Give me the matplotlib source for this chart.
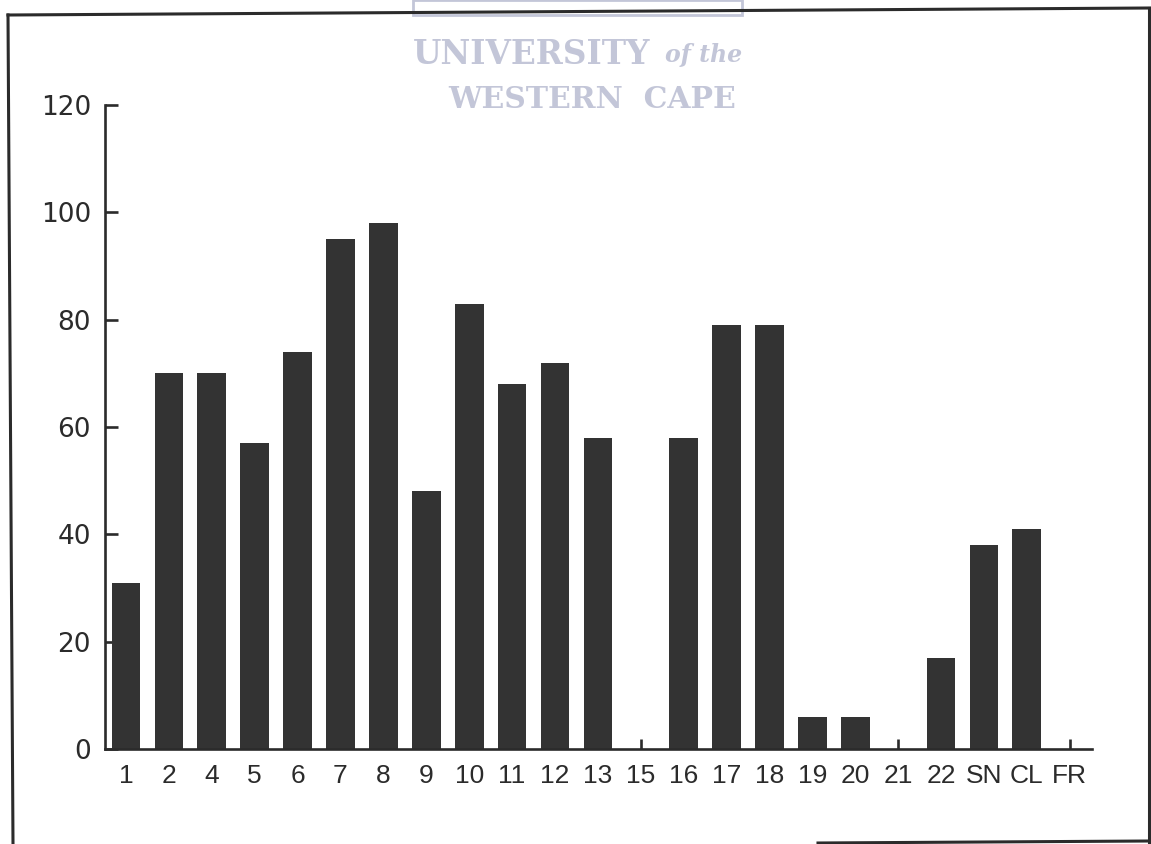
import numpy as np
import matplotlib
matplotlib.use("Agg")
import matplotlib.pyplot as plt
from matplotlib.lines import Line2D
from matplotlib.patches import Rectangle

categories = ["1", "2", "4", "5", "6", "7", "8", "9", "10", "11", "12", "13",
              "15", "16", "17", "18", "19", "20", "21", "22", "SN", "CL", "FR"]
counts = [31, 70, 70, 57, 74, 95, 98, 48, 83, 68, 72, 58,
          0, 58, 79, 79, 6, 6, 0, 17, 38, 41, 0]
yticks = [0, 20, 40, 60, 80, 100, 120]

ink = "#2b2b2b"
plt.rcParams["font.family"] = ["Liberation Sans", "DejaVu Sans"]

fig = plt.figure(figsize=(11.51, 8.44), dpi=100)
ax = fig.add_axes([0.0912, 0.1126, 0.8576, 0.763])

x = np.arange(len(categories))
ax.bar(x, counts, width=0.67, color="#333333", zorder=3)

ax.set_xlim(-0.49, 22.52)
ax.set_ylim(0, 120)
ax.set_xticks(x)
ax.set_xticklabels(categories)
ax.set_yticks(yticks)
ax.set_yticklabels([str(v) for v in yticks], family="DejaVu Sans")

for side in ["top", "right"]:
    ax.spines[side].set_visible(False)
for side in ["left", "bottom"]:
    ax.spines[side].set_linewidth(1.9)
    ax.spines[side].set_color(ink)
    ax.spines[side].set_zorder(4)

ax.tick_params(axis="y", direction="in", length=9, width=1.9, color=ink,
               labelsize=19, pad=10, labelcolor=ink)
ax.tick_params(axis="x", direction="in", length=7, width=1.9, color=ink,
               labelsize=19, pad=11, labelcolor=ink)

# scanned page frame
frame = dict(color=ink, lw=2.2, transform=fig.transFigure)
fig.add_artist(Line2D([8 / 1151, 1150 / 1151], [1 - 15 / 844, 1 - 8 / 844], **frame))
fig.add_artist(Line2D([1149 / 1151, 1149 / 1151], [1 - 8 / 844, 1 - 842 / 844], **frame))
fig.add_artist(Line2D([8 / 1151, 13 / 1151], [1 - 15 / 844, 0], **frame))
fig.add_artist(Line2D([818 / 1151, 1149 / 1151], [1 - 843 / 844, 1 - 841 / 844], **frame))

# watermark
wm = "#c3c6d8"
fig.add_artist(Rectangle((413 / 1151, 1 - 15 / 844), 329 / 1151, 15 / 844,
                         transform=fig.transFigure, fill=False, ec=wm, lw=2))
fig.text(413 / 1151, 1 - 54 / 844, "UNIVERSITY", ha="left", va="center",
         fontsize=23.5, color=wm, family="DejaVu Serif", fontweight="bold")
fig.text(742 / 1151, 1 - 55 / 844, "of the", ha="right", va="center",
         fontsize=17, color=wm, family="DejaVu Serif", style="italic",
         fontweight="bold")
fig.text(592 / 1151, 1 - 100 / 844, "WESTERN  CAPE", ha="center", va="center",
         fontsize=21.5, color=wm, family="DejaVu Serif", fontweight="bold")

fig.savefig("out.png", dpi=100, facecolor="white")
